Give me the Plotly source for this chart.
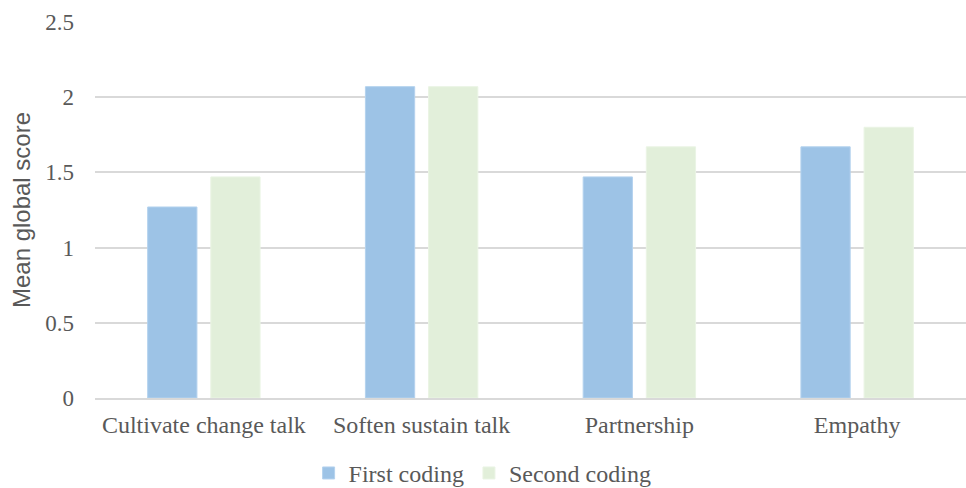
import plotly.graph_objects as go

categories = ["Cultivate change talk", "Soften sustain talk", "Partnership", "Empathy"]
first_coding = [1.27, 2.07, 1.47, 1.67]
second_coding = [1.47, 2.07, 1.67, 1.80]
y_ticks = [0, 0.5, 1, 1.5, 2, 2.5]
y_tick_labels = ["0", "0.5", "1", "1.5", "2", "2.5"]

text_color = "#595959"
grid_color = "#d9d9d9"

fig = go.Figure()
fig.add_trace(go.Bar(
    name="First coding", x=categories, y=first_coding,
    marker=dict(color="#9DC3E6", line=dict(color="#B4D2EE", width=1)),
))
fig.add_trace(go.Bar(
    name="Second coding", x=categories, y=second_coding,
    marker=dict(color="#E2EFDA", line=dict(color="#EAF4E4", width=1)),
))

fig.update_layout(
    width=966, height=488,
    margin=dict(l=95, r=0, t=22, b=90),
    paper_bgcolor="white", plot_bgcolor="white",
    barmode="group", bargap=0.42, bargroupgap=0.22,
    font=dict(family="Liberation Serif", size=24, color=text_color),
    showlegend=True,
    legend=dict(
        orientation="h", x=0.445, xanchor="center",
        yref="container", y=0.03, yanchor="middle",
        font=dict(family="Liberation Serif", size=24, color=text_color),
        itemwidth=30, tracegroupgap=0,
    ),
    xaxis=dict(
        showgrid=False, showline=True, linecolor=grid_color, linewidth=1.5,
        ticks="", ticklabelstandoff=4,
        tickfont=dict(size=24),
    ),
    yaxis=dict(
        range=[0, 2.5], tickvals=y_ticks, ticktext=y_tick_labels,
        showgrid=True, gridcolor=grid_color, gridwidth=1.5,
        zeroline=False, showline=False, ticks="", ticklabelstandoff=20,
        tickfont=dict(size=23),
        title=dict(text="Mean global score", standoff=7,
                   font=dict(family="Liberation Sans", size=24, color=text_color)),
    ),
)

fig.write_html("out.html")
